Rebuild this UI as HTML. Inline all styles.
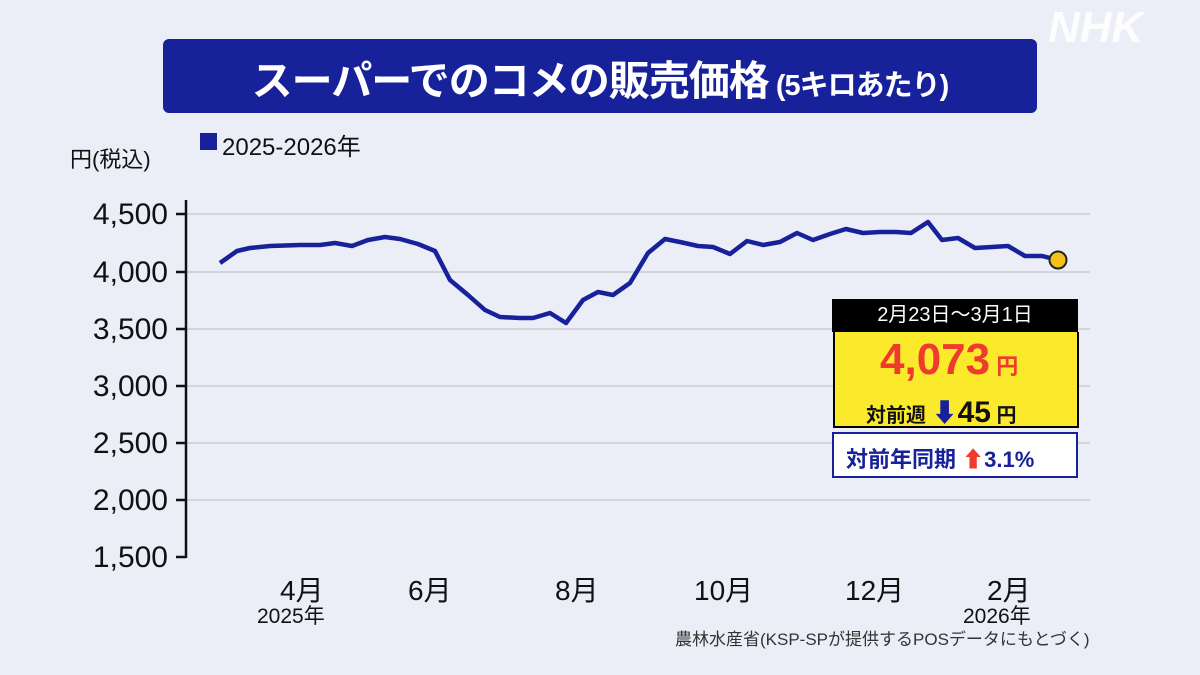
<!DOCTYPE html>
<html><head><meta charset="utf-8"><style>
body{margin:0;width:1200px;height:675px;background:#eceef7;overflow:hidden;font-family:"Liberation Sans","Noto Sans CJK JP",sans-serif;position:relative}
.t{position:absolute;white-space:nowrap}
</style></head><body>
<div class="t" style="left:163px;top:39px;width:874px;height:74px;background:#17229a;border-radius:6px"></div>
<div class="t" style="left:163px;top:47px;width:874px;text-align:center;color:#fff;font-size:41px;font-weight:bold;letter-spacing:-1px">スーパーでのコメの販売価格<span style="font-size:29px"> (5キロあたり)</span></div>
<div class="t" style="left:1048px;top:3px;color:#fff;font-size:44px;font-weight:bold;font-style:italic;opacity:.9">NHK</div>
<div class="t" style="left:200px;top:133px;width:17px;height:17px;background:#17229a"></div>
<div class="t" style="left:222px;top:127px;font-size:24px;color:#111">2025-2026年</div>
<div class="t" style="left:70px;top:142px;font-size:22px;color:#111">円(税込)</div>
<svg class="t" style="left:0;top:0" width="1200" height="675">
<g stroke="#d3d4da" stroke-width="2">
<line x1="186" y1="214" x2="1090" y2="214"/><line x1="186" y1="272" x2="1090" y2="272"/><line x1="186" y1="329" x2="1090" y2="329"/><line x1="186" y1="386" x2="1090" y2="386"/><line x1="186" y1="443" x2="1090" y2="443"/><line x1="186" y1="500" x2="1090" y2="500"/>
</g>
<g stroke="#111" stroke-width="2.5">
<line x1="186" y1="200" x2="186" y2="558"/><line x1="176" y1="214" x2="186" y2="214"/><line x1="176" y1="272" x2="186" y2="272"/><line x1="176" y1="329" x2="186" y2="329"/><line x1="176" y1="386" x2="186" y2="386"/><line x1="176" y1="443" x2="186" y2="443"/><line x1="176" y1="500" x2="186" y2="500"/><line x1="176" y1="557" x2="186" y2="557"/>
</g>
<polyline fill="none" stroke="#17229a" stroke-width="4.5" stroke-linejoin="round" points="220,263 237,251 250,248 270,246 300,245 320,245 335,243 352,246 368,240 385,237 400,239 418,244 435,251 450,280 468,295 485,310 500,317 520,318 533,318 550,313 566,323 583,300 598,292 613,295 630,283 648,253 665,239 680,242 698,246 713,247 730,254 747,241 763,245 780,242 797,233 813,240 830,234 846,229 863,233 880,232 896,232 911,233 928,222 942,240 958,238 975,248 992,247 1008,246 1025,256 1042,256 1058,260"/>
<circle cx="1058" cy="260" r="8.5" fill="#f5c21b" stroke="#222" stroke-width="2"/>
</svg>
<div class="t" style="right:1032px;top:198px;font-size:30px;color:#111">4,500</div>
<div class="t" style="right:1032px;top:256px;font-size:30px;color:#111">4,000</div>
<div class="t" style="right:1032px;top:313px;font-size:30px;color:#111">3,500</div>
<div class="t" style="right:1032px;top:370px;font-size:30px;color:#111">3,000</div>
<div class="t" style="right:1032px;top:427px;font-size:30px;color:#111">2,500</div>
<div class="t" style="right:1032px;top:484px;font-size:30px;color:#111">2,000</div>
<div class="t" style="right:1032px;top:541px;font-size:30px;color:#111">1,500</div>
<div class="t" style="left:280px;top:569px;font-size:28px;color:#111">4月</div>
<div class="t" style="left:257px;top:600px;font-size:21px;color:#111">2025年</div>
<div class="t" style="left:408px;top:569px;font-size:28px;color:#111">6月</div>
<div class="t" style="left:555px;top:569px;font-size:28px;color:#111">8月</div>
<div class="t" style="left:694px;top:569px;font-size:28px;color:#111">10月</div>
<div class="t" style="left:845px;top:569px;font-size:28px;color:#111">12月</div>
<div class="t" style="left:987px;top:569px;font-size:28px;color:#111">2月</div>
<div class="t" style="left:963px;top:600px;font-size:21px;color:#111">2026年</div>
<div class="t" style="left:675px;top:625px;font-size:17px;color:#333">農林水産省(KSP-SPが提供するPOSデータにもとづく)</div>
<div class="t" style="left:832px;top:299px;width:246px;height:33px;background:#000;color:#fff;font-size:20px;text-align:center;line-height:33px">2月23日～3月1日</div>
<div class="t" style="left:833px;top:332px;width:242px;height:94px;background:#fbe92b;border:2px solid #000;border-top:0"></div>
<div class="t" style="left:880px;top:335px;font-size:44px;font-weight:bold;color:#ee3b2e">4,073<span style="font-size:22px"> 円</span></div>
<div class="t" style="left:866px;top:393px;font-size:20px;font-weight:bold;color:#111">対前週 <span style="color:#17229a;font-size:26px">⬇</span><span style="font-size:30px">45</span> 円</div>
<div class="t" style="left:832px;top:432px;width:242px;height:42px;background:#fff;border:2px solid #17229a"></div>
<div class="t" style="left:846px;top:442px;font-size:22px;font-weight:bold;color:#17229a">対前年同期 <span style="color:#ee3b2e">⬆</span>3.1%</div>
</body></html>
